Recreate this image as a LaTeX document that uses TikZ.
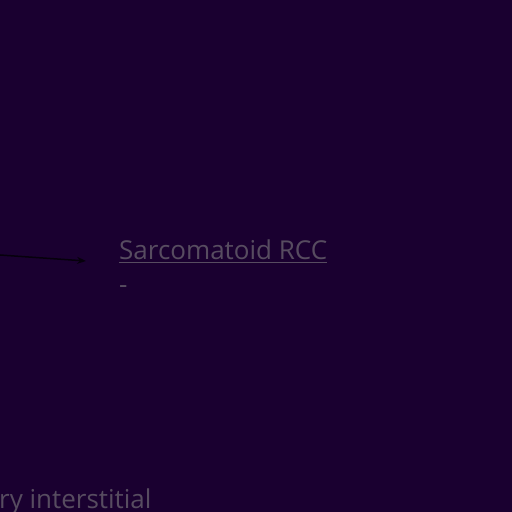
\documentclass[tikz,border=0pt]{standalone}
\usepackage{fontspec}
\setmainfont{Open Sans}
\usetikzlibrary{arrows.meta}
\definecolor{bg}{HTML}{1A0030}
\definecolor{txt}{HTML}{574C60}
\definecolor{arr}{HTML}{06000C}
\tikzset{
  lbl/.style={text=txt, font=\fontsize{26}{30}\selectfont, inner sep=0pt, anchor=base west},
  conn/.style={draw=arr, line width=1.5pt, -{Stealth[length=9pt,width=7pt]}}
}
\begin{document}
\begin{tikzpicture}[x=1pt,y=1pt]
\fill[bg] (0,0) rectangle (512,512);
\useasboundingbox (0,0) rectangle (512,512);
\begin{scope}
\clip (0,0) rectangle (512,512);
\node[lbl] (rcc) at (119,252) {Sarcomatoid RCC};
\draw[txt, line width=0.8pt] ([yshift=-2.5pt]rcc.base west) -- ([yshift=-2.5pt]rcc.base east);
\node[lbl] (dash) at (119,218) {-};
\node[lbl] (inter) at (-1,3) {ry interstitial};
\coordinate (src) at (0,257);
\coordinate (dst) at (86,251);
\draw[conn] (src) -- (dst);
\end{scope}
\end{tikzpicture}
\end{document}
